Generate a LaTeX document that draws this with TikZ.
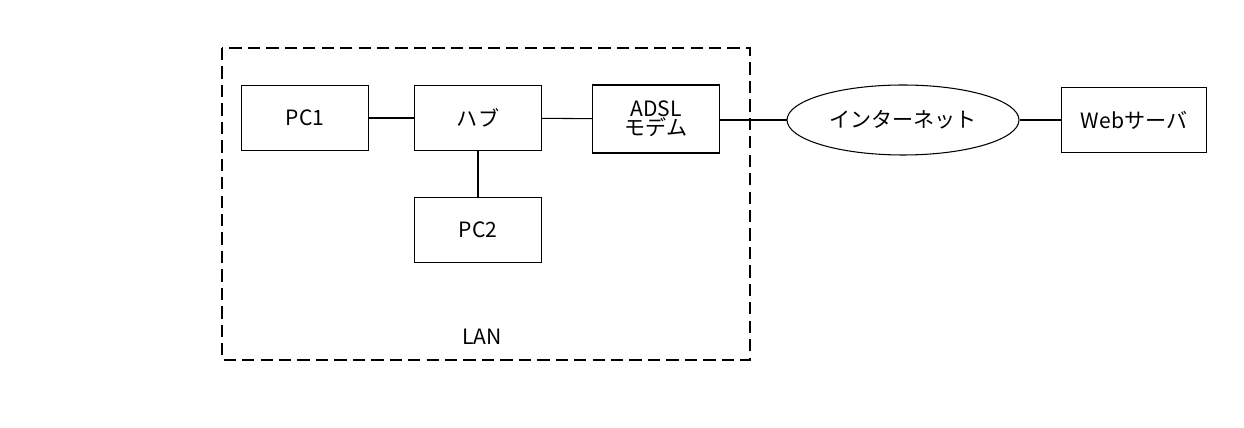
\documentclass[tikz,border=0pt]{standalone}
\usepackage{fontspec}
\setmainfont{Noto Sans CJK JP}
\usetikzlibrary{positioning,shapes.geometric}

\tikzset{
    box/.style={draw, semithick, minimum width=2.54cm, minimum height=1.3cm, align=center, font=\large},
    cloud/.style={draw, semithick, ellipse, minimum width=4.64cm, minimum height=1.4cm, font=\large},
    link/.style={semithick},
}

\begin{document}
\begin{tikzpicture}[x=0.02cm,y=-0.02cm]
        \useasboundingbox (0,0) rectangle (1244,428);
        \draw[semithick, dash pattern=on 7pt off 3.5pt] (222,48) rectangle (750,360);
        \node at (482,337) {\large LAN};

        \node[box] (pc1) at (305,118) {PC1};
        \node[box] (hub) at (478,118) {ハブ};
        \node[box, minimum height=1.36cm] (modem) at (656,119) {ADSL\\[-3pt]モデム};
        \node[box] (pc2) at (478,230) {PC2};
        \node[cloud] (net) at (903,120) {インターネット};
        \node[box, minimum width=2.9cm] (web) at (1134,120) {Webサーバ};

        \draw[link] (pc1) -- (hub);
        \draw[link] (hub) -- (modem);
        \draw[link] (hub) -- (pc2);
        \draw[link] (modem.east |- net.west) -- (net.west);
        \draw[link] (net) -- (web);
\end{tikzpicture}
\end{document}
